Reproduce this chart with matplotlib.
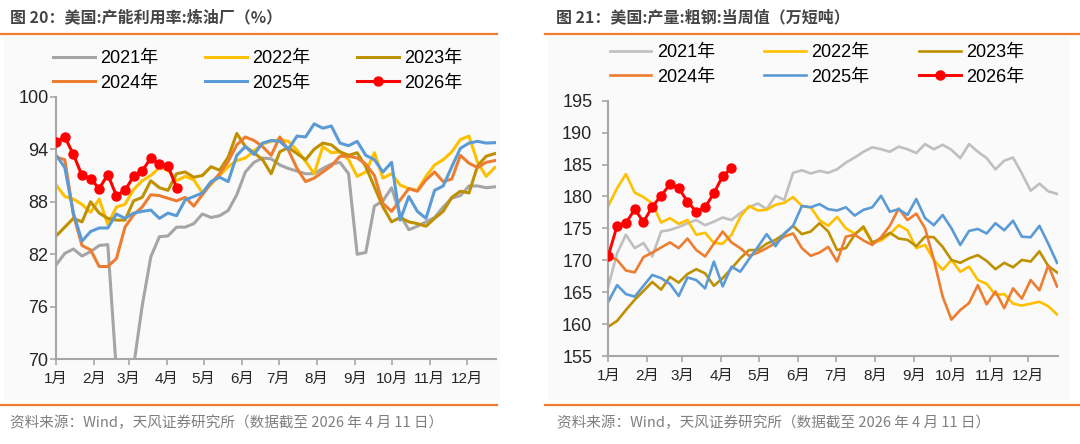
import numpy as np
import matplotlib
matplotlib.use("Agg")
import matplotlib.pyplot as plt
from matplotlib.lines import Line2D
from matplotlib.patches import Rectangle

plt.rcParams['font.family'] = ['Liberation Sans', 'Noto Sans CJK SC', 'DejaVu Sans']

# ---------------- data ----------------
years = ["2021年", "2022年", "2023年", "2024年", "2025年", "2026年"]
months = ["1月", "2月", "3月", "4月", "5月", "6月", "7月", "8月", "9月", "10月", "11月", "12月"]
month_start_days = [0, 31, 59, 90, 120, 151, 181, 212, 243, 273, 304, 334]

# Panel 1: US refinery utilization (%), weekly
ref_2021 = [80.8, 82.1, 82.6, 81.8, 82.3, 83.0, 83.1, 68.6, 56.0, 69.2, 76.1, 81.7, 84.0, 84.1, 85.1, 85.1,
            85.5, 86.6, 86.2, 86.4, 87.0, 88.8, 91.4, 92.5, 93.0, 92.9, 92.2, 91.8, 91.5, 91.2, 91.2, 91.8,
            92.3, 92.5, 91.2, 82.0, 82.2, 87.5, 88.1, 89.6, 86.5, 84.8, 85.2, 85.7, 86.2, 87.4, 88.4, 88.7,
            89.8, 89.8, 89.6, 89.7]
ref_2022 = [89.9, 88.6, 88.3, 87.7, 86.8, 88.3, 85.4, 87.4, 87.7, 89.4, 90.4, 91.0, 91.9, 91.6, 90.4, 90.9,
            90.5, 89.0, 90.0, 91.0, 92.0, 92.7, 93.0, 93.8, 94.6, 94.9, 95.1, 94.9, 93.9, 92.6, 91.2, 94.3,
            93.6, 93.7, 92.8, 90.9, 91.4, 93.6, 90.7, 91.2, 89.9, 89.5, 89.3, 90.9, 92.2, 92.8, 93.7, 95.1,
            95.5, 92.5, 90.9, 91.9]
ref_2023 = [84.1, 85.1, 86.1, 85.7, 88.0, 86.7, 86.1, 85.9, 85.9, 88.1, 88.5, 90.4, 89.6, 89.3, 91.2, 91.4,
            90.8, 91.0, 92.0, 91.6, 93.1, 95.8, 94.3, 93.6, 92.8, 91.2, 93.7, 94.2, 93.5, 92.8, 94.0, 94.7,
            94.5, 93.7, 93.3, 93.6, 92.0, 89.7, 87.4, 85.7, 86.2, 85.7, 85.5, 85.2, 86.1, 86.9, 88.5, 89.2,
            89.0, 92.1, 93.2, 93.5]
ref_2024 = [93.1, 92.8, 86.5, 83.0, 82.5, 80.6, 80.6, 81.5, 85.1, 86.5, 87.4, 88.8, 88.7, 88.4, 88.1, 88.5,
            87.5, 88.8, 90.1, 91.2, 92.6, 94.5, 95.4, 95.0, 94.3, 93.3, 95.4, 93.9, 91.8, 90.3, 90.7, 91.4,
            92.1, 93.2, 93.2, 93.0, 92.3, 91.0, 87.8, 86.9, 88.2, 89.5, 89.2, 90.5, 91.4, 90.3, 90.6, 93.3,
            92.4, 91.9, 92.5, 92.7]
ref_2025 = [93.3, 91.9, 86.7, 83.5, 84.6, 85.0, 85.0, 86.6, 86.1, 86.7, 86.9, 87.05, 86.1, 86.7, 86.4, 88.2,
            88.6, 89.0, 90.3, 90.8, 90.3, 93.3, 94.3, 93.4, 94.7, 95.0, 94.9, 94.0, 95.5, 95.4, 96.9, 96.4,
            96.65, 94.7, 94.4, 94.9, 93.3, 92.8, 91.4, 92.5, 85.9, 88.6, 86.9, 86.1, 89.3, 89.8, 92.0, 94.1,
            94.7, 94.9, 94.7, 94.75]
ref_2026 = [94.8, 95.4, 93.4, 91.0, 90.6, 89.5, 91.1, 88.7, 89.3, 90.9, 91.5, 93.0, 92.3, 92.1, 89.6]

# Panel 2: US crude steel output, weekly (10k short tons)
stl_2021 = [165.9, 171.1, 174.0, 171.9, 172.7, 170.6, 174.5, 174.75, 175.2, 175.8, 176.3, 175.5, 176.05,
            176.7, 176.3, 177.4, 178.3, 178.9, 178.0, 180.1, 179.45, 183.7, 184.1, 183.6, 184.0, 183.7,
            184.25, 185.3, 186.1, 187.0, 187.7, 187.4, 187.0, 187.8, 187.4, 186.8, 188.2, 187.4, 188.1,
            187.3, 186.0, 188.2, 187.0, 186.0, 184.25, 185.6, 186.1, 183.6, 180.9, 182.0, 180.8, 180.4]
stl_2022 = [178.5, 181.3, 183.5, 180.6, 179.9, 178.9, 175.9, 176.6, 175.7, 176.3, 174.0, 174.3, 172.7,
            172.6, 174.0, 176.8, 178.5, 177.8, 177.9, 178.7, 179.0, 179.9, 178.5, 178.3, 176.3, 175.4,
            176.8, 175.0, 174.2, 175.0, 172.7, 173.1, 174.1, 175.5, 174.7, 171.9, 172.4, 170.05, 168.5,
            170.05, 168.2, 169.0, 166.9, 166.3, 164.6, 164.7, 163.2, 162.9, 163.2, 163.5, 162.8, 161.5]
stl_2023 = [159.6, 160.5, 162.2, 163.8, 165.2, 166.6, 165.4, 167.4, 166.5, 167.85, 168.6, 167.95, 166.0,
            167.2, 168.7, 170.3, 171.6, 171.6, 172.6, 173.2, 174.1, 175.4, 174.1, 174.5, 175.8, 174.5,
            171.6, 171.9, 174.0, 175.3, 172.8, 173.4, 174.3, 173.4, 173.2, 172.2, 173.7, 173.6, 172.1,
            170.05, 169.6, 170.3, 170.8, 169.9, 168.6, 169.6, 168.9, 170.05, 169.8, 171.4, 169.1, 168.1]
stl_2024 = [170.7, 170.05, 168.4, 168.1, 170.5, 171.2, 172.0, 172.8, 171.9, 173.4, 171.6, 170.6, 172.6,
            174.5, 172.8, 171.9, 170.7, 171.2, 171.9, 172.7, 173.7, 174.2, 171.9, 170.7, 171.2, 172.1,
            169.8, 173.7, 174.0, 173.1, 172.4, 173.6, 175.4, 178.1, 176.3, 177.3, 175.0, 170.1, 164.3,
            160.7, 162.2, 163.3, 166.1, 163.1, 165.1, 162.5, 165.6, 164.0, 166.9, 165.3, 169.2, 165.9]
stl_2025 = [163.5, 166.1, 164.7, 164.3, 166.0, 167.7, 167.2, 166.3, 164.4, 167.3, 166.9, 165.6, 169.8,
            165.9, 169.0, 168.2, 170.2, 172.1, 174.1, 172.2, 174.2, 175.4, 178.5, 178.3, 178.8, 178.0,
            177.8, 178.3, 177.0, 177.9, 178.3, 180.1, 177.6, 178.0, 177.1, 179.6, 176.6, 175.5, 177.1,
            175.0, 172.4, 174.6, 174.9, 174.2, 175.8, 174.7, 176.2, 173.7, 173.6, 175.4, 172.6, 169.6]
stl_2026 = [170.7, 175.4, 175.8, 178.0, 176.0, 178.4, 180.1, 181.9, 181.3, 179.2, 177.6, 178.3, 180.5,
            183.2, 184.4]

left_ticks = [70, 76, 82, 88, 94, 100]
right_ticks = [155, 160, 165, 170, 175, 180, 185, 190, 195]

title_left = "图 20：美国:产能利用率:炼油厂（%）"
title_right = "图 21：美国:产量:粗钢:当周值（万短吨）"
source = "资料来源：Wind，天风证券研究所（数据截至 2026 年 4 月 11 日）"

# ---------------- figure ----------------
W, H = 1080, 444
fig = plt.figure(figsize=(W / 100, H / 100), dpi=100)
fig.patch.set_facecolor("white")

def fx(px):
    return px / W

def fy(py):
    return 1 - py / H

ORANGE = "#ED7D31"

# light panel backgrounds
for (x0, x1) in [(4, 500), (548, 1070)]:
    r = Rectangle((fx(x0), fy(400)), fx(x1) - fx(x0), fy(37) - fy(400),
                  transform=fig.transFigure, facecolor="#FAFAFA", edgecolor="none", zorder=-10)
    fig.add_artist(r)

# separator lines
for (x0, x1) in [(0, 497), (545, 1080)]:
    for yy in [34, 405]:
        fig.add_artist(Line2D([fx(x0), fx(x1)], [fy(yy), fy(yy)], transform=fig.transFigure,
                              color=ORANGE, lw=1.6))

# titles and sources
cjk = ['Noto Sans CJK SC', 'DejaVu Sans']
fig.text(fx(10), fy(17), title_left, fontsize=11.5, color="#454545", va="center", ha="left",
         family=cjk, fontweight="bold")
fig.text(fx(556), fy(17), title_right, fontsize=11.5, color="#454545", va="center", ha="left",
         family=cjk, fontweight="bold")
fig.text(fx(10), fy(423), source, fontsize=10.5, color="#7F7F7F", va="center", ha="left", family=cjk)
fig.text(fx(557), fy(423), source, fontsize=10.5, color="#7F7F7F", va="center", ha="left", family=cjk)


def setup_axes(rect, ylim, yticks, ypad):
    ax = fig.add_axes(rect)
    ax.set_facecolor("none")
    ax.set_xlim(0, 358)
    ax.set_ylim(*ylim)
    ax.set_yticks(yticks)
    ax.set_xticks(month_start_days)
    ax.set_xticklabels(months)
    for s in ["top", "right"]:
        ax.spines[s].set_visible(False)
    for s in ["left", "bottom"]:
        ax.spines[s].set_color("#A6A6A6")
        ax.spines[s].set_linewidth(1.5)
    ax.tick_params(axis="y", direction="out", length=4, width=1.2, color="#A6A6A6",
                   labelsize=13, labelcolor="#262626", pad=ypad)
    ax.tick_params(axis="x", direction="out", length=4, width=1.2, color="#A6A6A6",
                   labelsize=11, labelcolor="#262626", pad=5)
    return ax


colors = ["#A5A5A5", "#FFC000", "#BF9000", "#ED7D31", "#5B9BD5", "#FF0000"]

# left panel
axL = setup_axes([fx(56.2), fy(359.3), fx(496) - fx(56.2), fy(96.7) - fy(359.3)], (70, 100), left_ticks, 1.5)
left_series = [ref_2021, ref_2022, ref_2023, ref_2024, ref_2025]
hL = []
for s, c, lab in zip(left_series, colors[:5], years[:5]):
    x = 7 * np.arange(len(s))
    ln, = axL.plot(x, s, color=c, lw=2.2, label=lab, solid_joinstyle="round")
    hL.append(ln)
x = 7 * np.arange(len(ref_2026))
ln, = axL.plot(x, ref_2026, color=colors[5], lw=2.2, marker="o", markersize=6.5, label=years[5], zorder=5)
hL.append(ln)

# right panel
colorsR = ["#BFBFBF", "#FFC000", "#BF9000", "#ED7D31", "#5B9BD5", "#FF0000"]
axR = setup_axes([fx(608.3), fy(356), fx(1058.3) - fx(608.3), fy(100.7) - fy(356)], (155, 195), right_ticks, 7.5)
right_series = [stl_2021, stl_2022, stl_2023, stl_2024, stl_2025]
hR = []
for s, c, lab in zip(right_series, colorsR[:5], years[:5]):
    x = 7 * np.arange(len(s))
    ln, = axR.plot(x, s, color=c, lw=1.9, label=lab, solid_joinstyle="round")
    hR.append(ln)
x = 7 * np.arange(len(stl_2026))
ln, = axR.plot(x, stl_2026, color=colorsR[5], lw=2.1, marker="o", markersize=6.5, label=years[5], zorder=5)
hR.append(ln)

order = [0, 3, 1, 4, 2, 5]
fig.legend([hL[i] for i in order], [years[i] for i in order], ncol=3, loc="center",
           bbox_to_anchor=(fx(258), fy(71)), frameon=False, fontsize=13, handlelength=2.3,
           handletextpad=0.3, columnspacing=2.6, labelspacing=0.4, borderpad=0)
fig.legend([hR[i] for i in order], [years[i] for i in order], ncol=3, loc="center",
           bbox_to_anchor=(fx(817), fy(65)), frameon=False, fontsize=13, handlelength=2.3,
           handletextpad=0.3, columnspacing=2.75, labelspacing=0.4, borderpad=0)

fig.savefig("out.png", dpi=100)
